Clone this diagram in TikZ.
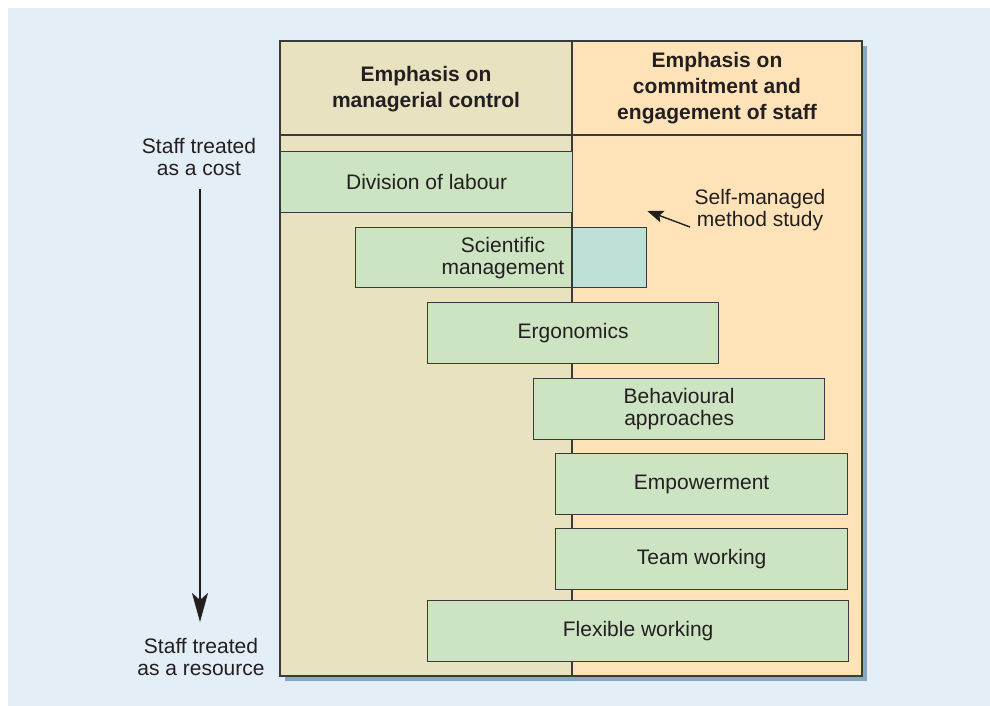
\documentclass[tikz,border=0pt]{standalone}
\usepackage{fontspec}
\setmainfont{Liberation Sans}
\usetikzlibrary{arrows.meta}
\definecolor{bgblue}{HTML}{E3EEF6}
\definecolor{leftcol}{HTML}{E8E2C1}
\definecolor{rightcol}{HTML}{FFE3B8}
\definecolor{boxgreen}{HTML}{CDE4C3}
\definecolor{boxblue}{HTML}{BDE0D9}
\definecolor{linecol}{HTML}{3A3A3A}
\definecolor{shadowcol}{HTML}{86A8C2}
\definecolor{textcol}{HTML}{231F20}
\begin{document}
\begin{tikzpicture}[x=1pt,y=-1pt,
  every node/.style={text=textcol},
  bodytext/.style={font=\fontsize{21}{22}\selectfont, align=center, inner sep=0pt},
  headtext/.style={font=\fontsize{21}{26}\selectfont\bfseries, align=center, inner sep=0pt},
  stagebox/.style={draw=linecol, line width=1.3pt, fill=boxgreen, anchor=north west,
    minimum height=61pt, inner sep=0pt, font=\fontsize{21}{22}\selectfont, align=center},
  frameline/.style={draw=linecol, line width=1.8pt}
]
\useasboundingbox (0,0) rectangle (990,706);
\fill[white] (0,0) rectangle (990,706);
\fill[bgblue] (8,8) rectangle (990,706);
% shadow and columns
\fill[shadowcol] (285,46) rectangle (867,681);
\fill[leftcol] (280,41) rectangle (572,676);
\fill[rightcol] (572,41) rectangle (862,676);
\draw[frameline] (280,135) -- (862,135);
\draw[draw=linecol, line width=1.5pt] (572,41) -- (572,676);
\draw[frameline] (280,41) rectangle (862,676);
% headers
\node[headtext] (hleft) at (426,89) {Emphasis on\\managerial control};
\node[headtext] (hright) at (717,88) {Emphasis on\\commitment and\\engagement of staff};
% boxes
\node[stagebox, minimum width=292pt] (div) at (280,151) {Division of labour};
\fill[boxgreen] (355,227) rectangle (572,287);
\fill[boxblue] (572,227) rectangle (646,287);
\node[draw=linecol, line width=1.3pt, anchor=north west, minimum width=291pt, minimum height=60pt, inner sep=0pt] (sci) at (355,227) {};
\draw[draw=linecol, line width=1.3pt] (sci.north -| 572,0) -- (sci.south -| 572,0);
\node[bodytext] (scitext) at (503,258) {Scientific\\management};
\node[stagebox, minimum width=291pt] (ergo) at (427,302) {Ergonomics};
\node[stagebox, minimum width=291pt] (behav) at (533,378) {Behavioural\\approaches};
\node[stagebox, minimum width=292pt] (emp) at (555,453) {Empowerment};
\node[stagebox, minimum width=292pt] (team) at (555,528) {Team working};
\node[stagebox, minimum width=421pt] (flex) at (427,600) {Flexible working};
% self-managed label
\node[bodytext] (sm) at (760,210) {Self-managed\\method study};
\coordinate (smstart) at (690,227);
\draw[draw=textcol, line width=1.4pt, -{Stealth[length=16pt,width=12pt,inset=3pt]}] (smstart) -- ([yshift=16pt]sci.north east);
% left axis
\node[bodytext] (cost) at (199,157) {Staff treated\\as a cost};
\node[bodytext] (res) at (201,657) {Staff treated\\as a resource};
\coordinate (atop) at (200,189);
\coordinate (abot) at (200,622);
\draw[draw=textcol, line width=2pt, -{Stealth[length=29pt,width=16pt,inset=7pt]}] (atop) -- (abot);
\end{tikzpicture}
\end{document}
